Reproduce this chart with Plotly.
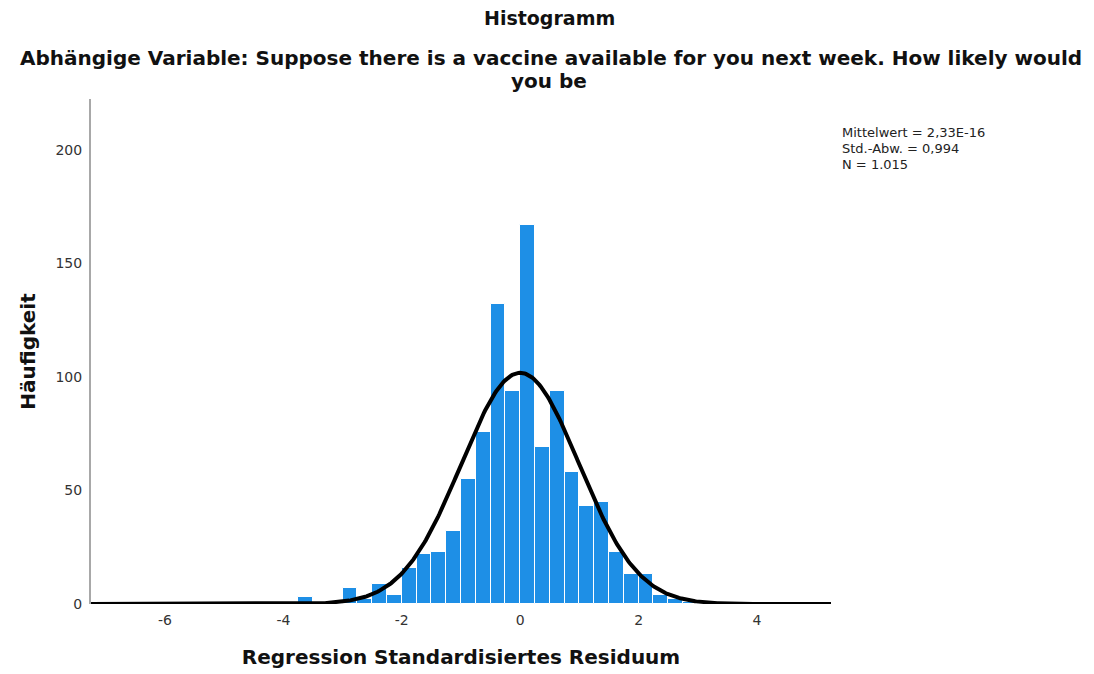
import numpy as np
import plotly.graph_objects as go

# Histogram of standardized regression residuals
bin_width = 0.25
bin_left = [-3.75, -3.5, -3.25, -3.0, -2.75, -2.5, -2.25, -2.0, -1.75, -1.5,
            -1.25, -1.0, -0.75, -0.5, -0.25, 0.0, 0.25, 0.5, 0.75, 1.0,
            1.25, 1.5, 1.75, 2.0, 2.25, 2.5, 2.75]
counts = [3, 0, 1, 7, 2, 9, 4, 16, 22, 23,
          32, 55, 76, 132, 94, 167, 69, 94, 58, 43,
          45, 23, 13, 13, 4, 2, 1]

# Summary statistics
mean_val = 2.33e-16
sd_val = 0.994
n_val = 1015
stats_lines = ["Mittelwert = 2,33E-16", "Std.-Abw. = 0,994", "N = 1.015"]

x_range = [-7.25, 5.25]
y_range = [0, 222.5]
x_ticks = [-6, -4, -2, 0, 2, 4]
x_ticktext = ["-6", "-4", "-2", "0", "2", "4"]
y_ticks = [0, 50, 100, 150, 200]

bin_mid = [b + bin_width / 2 for b in bin_left]

# Normal curve scaled to the histogram
xc = np.linspace(x_range[0], x_range[1], 600)
yc = n_val * bin_width / (sd_val * np.sqrt(2 * np.pi)) * np.exp(-0.5 * ((xc - mean_val) / sd_val) ** 2)

fig = go.Figure()
fig.add_trace(go.Bar(
    x=bin_mid, y=counts, width=bin_width,
    marker=dict(color="#1e8fe6", line=dict(color="#ffffff", width=1)),
    hoverinfo="x+y", showlegend=False,
))
fig.add_trace(go.Scatter(
    x=xc, y=yc, mode="lines",
    line=dict(color="#000000", width=4),
    hoverinfo="skip", showlegend=False,
))

W, H = 1094, 674
left, right, top, bottom = 91, 263, 99, 70
pw = W - left - right
ph = H - top - bottom

def py(pix):
    return (H - bottom - pix) / ph

def px(pix):
    return (pix - left) / pw

bold = "DejaVu Sans, sans-serif"
title_font = dict(family=bold, size=20, color="#111111")
annotations = [
    dict(text="<b>Histogramm</b>", x=px(549), y=py(18), xref="paper", yref="paper",
         xanchor="center", yanchor="middle", showarrow=False,
         font=dict(family=bold, size=19, color="#111111")),
    dict(text="<b>Abhängige Variable: Suppose there is a vaccine available for you next week. How likely would</b>",
         x=px(551), y=py(58), xref="paper", yref="paper",
         xanchor="center", yanchor="middle", showarrow=False, font=title_font),
    dict(text="<b>you be</b>",
         x=px(549), y=py(81), xref="paper", yref="paper",
         xanchor="center", yanchor="middle", showarrow=False, font=title_font),
]
for i, line in enumerate(stats_lines):
    annotations.append(dict(
        text=line, x=px(840), y=py(133 + 15.5 * i),
        xref="paper", yref="paper", xanchor="left", yanchor="middle", showarrow=False,
        font=dict(family="DejaVu Sans, sans-serif", size=13, color="#222222"),
    ))

fig.update_layout(
    width=W, height=H,
    margin=dict(l=left, r=right, t=top, b=bottom),
    paper_bgcolor="#ffffff", plot_bgcolor="#ffffff",
    bargap=0,
    annotations=annotations,
    xaxis=dict(
        range=x_range, tickvals=x_ticks, ticktext=x_ticktext,
        showgrid=False, zeroline=False, showline=False, ticks="",
        ticklabelstandoff=6, automargin=False,
        tickfont=dict(family="DejaVu Sans, sans-serif", size=14, color="#333333"),
        title=dict(text="<b>Regression Standardisiertes Residuum</b>", standoff=22,
                   font=dict(family=bold, size=20, color="#111111")),
    ),
    yaxis=dict(
        range=y_range, tickvals=y_ticks,
        showgrid=False, zeroline=False, showline=True, linecolor="#a8a8a8", linewidth=2,
        ticks="", ticklabelstandoff=4, automargin=False,
        tickfont=dict(family="DejaVu Sans, sans-serif", size=14, color="#333333"),
        title=dict(text="<b>Häufigkeit</b>", standoff=14,
                   font=dict(family=bold, size=20, color="#111111")),
    ),
)

fig.write_html("out.html")
